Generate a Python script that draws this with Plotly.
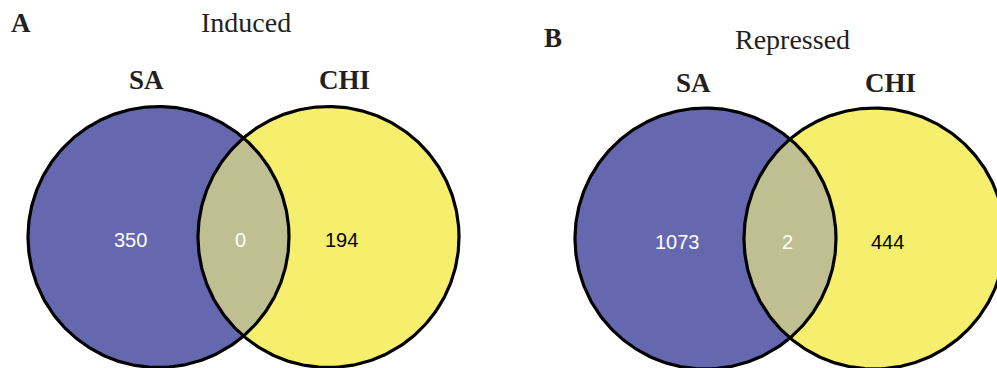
import numpy as np
import plotly.graph_objects as go

# Venn counts: (SA only, shared, CHI only)
panels = ["A", "B"]
titles = ["Induced", "Repressed"]
set_names = ["SA", "CHI"]
sa_only = [350, 1073]
shared = [0, 2]
chi_only = [194, 444]

W, H = 997, 368
BLUE = "#6568AF"
YELLOW = "#F6EE6D"
LENS = "#C0BF91"

# Panel geometry in pixel space (x to the right, y downward)
R = 130.5
left_cx = [158.5, 705.5]
right_cx = [328.5, 874.5]
cy = [237.0, 238.5]

fig = go.Figure()


def circle_xy(cx, cyy, r, n=360):
    t = np.linspace(0, 2 * np.pi, n)
    return cx + r * np.cos(t), cyy + r * np.sin(t)


def lens_xy(cx1, cx2, cyy, r, n=200):
    d = cx2 - cx1
    h = np.sqrt(r ** 2 - (d / 2) ** 2)
    a = np.arctan2(h, d / 2)
    # arc of left circle (right side), then arc of right circle (left side)
    t1 = np.linspace(-a, a, n)
    x1 = cx1 + r * np.cos(t1)
    y1 = cyy + r * np.sin(t1)
    t2 = np.linspace(np.pi - a, np.pi + a, n)
    x2 = cx2 + r * np.cos(t2)
    y2 = cyy + r * np.sin(t2)
    return np.concatenate([x1, x2, x1[:1]]), np.concatenate([y1, y2, y1[:1]])


for i in range(2):
    xl, yl = circle_xy(left_cx[i], cy[i], R)
    xr, yr = circle_xy(right_cx[i], cy[i], R)
    fig.add_trace(go.Scatter(x=xl, y=yl, fill="toself", fillcolor=BLUE,
                             mode="none", hoverinfo="skip"))
    fig.add_trace(go.Scatter(x=xr, y=yr, fill="toself", fillcolor=YELLOW,
                             mode="none", hoverinfo="skip"))
    lx, ly = lens_xy(left_cx[i], right_cx[i], cy[i], R)
    fig.add_trace(go.Scatter(x=lx, y=ly, fill="toself", fillcolor=LENS,
                             mode="none", hoverinfo="skip"))
    for xs, ys in ((xl, yl), (xr, yr)):
        fig.add_trace(go.Scatter(x=xs, y=ys, mode="lines",
                                 line=dict(color="black", width=3.2),
                                 hoverinfo="skip"))

serif = "Liberation Serif"
sans = "Liberation Sans"

panel_xy = [(21, 23), (553, 38)]
title_xy = [(246, 22), (792, 39)]
name_y = [80, 83]
count_y = [240, 242]

for i in range(2):
    fig.add_annotation(x=panel_xy[i][0], y=panel_xy[i][1], text=f"<b>{panels[i]}</b>",
                       font=dict(family=serif, size=27, color="#231F20"))
    fig.add_annotation(x=title_xy[i][0], y=title_xy[i][1], text=titles[i],
                       font=dict(family=serif, size=28, color="#231F20"))
    fig.add_annotation(x=left_cx[i] - 12, y=name_y[i], text=f"<b>{set_names[0]}</b>",
                       font=dict(family=serif, size=27, color="#231F20"))
    fig.add_annotation(x=right_cx[i] + 16, y=name_y[i], text=f"<b>{set_names[1]}</b>",
                       font=dict(family=serif, size=27, color="#231F20"))
    mid = (left_cx[i] + right_cx[i]) / 2
    fig.add_annotation(x=left_cx[i] - 28, y=count_y[i], text=str(sa_only[i]),
                       font=dict(family=sans, size=20, color="white"))
    fig.add_annotation(x=mid - 3, y=count_y[i], text=str(shared[i]),
                       font=dict(family=sans, size=20, color="white"))
    fig.add_annotation(x=right_cx[i] + 13, y=count_y[i], text=str(chi_only[i]),
                       font=dict(family=sans, size=20, color="black"))

fig.update_annotations(showarrow=False, xref="x", yref="y",
                       xanchor="center", yanchor="middle")
fig.update_layout(
    width=W, height=H, margin=dict(l=0, r=0, t=0, b=0),
    paper_bgcolor="white", plot_bgcolor="white", showlegend=False,
    xaxis=dict(range=[0, W], visible=False, fixedrange=True),
    yaxis=dict(range=[H, 0], visible=False, fixedrange=True),
)

fig.write_html("out.html", config={"displayModeBar": False})
